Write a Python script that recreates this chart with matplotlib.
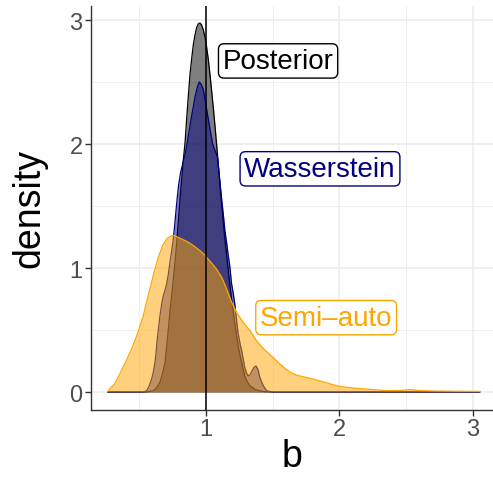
import matplotlib
matplotlib.use("Agg")
import matplotlib.pyplot as plt

plt.rcParams['font.family'] = ['Liberation Sans', 'DejaVu Sans']

# density curves (x = b, y = density)
post_x = [0.266, 0.55, 0.605, 0.63, 0.655, 0.675, 0.693, 0.705, 0.718, 0.73, 0.743, 0.755,
          0.768, 0.78, 0.793, 0.805, 0.818, 0.83, 0.843, 0.855, 0.868, 0.88, 0.893, 0.905,
          0.918, 0.93, 0.943, 0.955, 0.967, 0.98, 0.993, 1.005, 1.017, 1.03, 1.043, 1.055,
          1.067, 1.08, 1.095, 1.11, 1.125, 1.14, 1.155, 1.17, 1.185, 1.2, 1.215, 1.23,
          1.245, 1.26, 1.275, 1.29, 1.31, 1.33, 1.37, 1.42, 1.5, 3.05]
post_y = [0, 0.0, 0.01, 0.035, 0.078, 0.15, 0.24, 0.36, 0.508, 0.65, 0.777, 0.91,
          1.046, 1.2, 1.38, 1.55, 1.72, 1.87, 2.01, 2.2, 2.39, 2.56, 2.69, 2.8,
          2.88, 2.94, 2.97, 2.976, 2.96, 2.92, 2.86, 2.78, 2.685, 2.56, 2.42, 2.29,
          2.15, 1.99, 1.8, 1.6, 1.42, 1.25, 1.1, 0.95, 0.81, 0.68, 0.56, 0.45,
          0.35, 0.27, 0.2, 0.13, 0.08, 0.05, 0.02, 0.005, 0.0, 0]

wass_x = [0.266, 0.53, 0.555, 0.575, 0.593, 0.605, 0.618, 0.627, 0.635, 0.645, 0.655, 0.668,
          0.68, 0.693, 0.705, 0.718, 0.73, 0.743, 0.755, 0.765, 0.775, 0.785, 0.795, 0.81,
          0.83, 0.85, 0.868, 0.893, 0.918, 0.935, 0.95, 0.965, 0.98, 1.005, 1.03, 1.05,
          1.07, 1.085, 1.095, 1.105, 1.118, 1.13, 1.142, 1.155, 1.167, 1.18, 1.19, 1.205,
          1.217, 1.228, 1.24, 1.255, 1.27, 1.28, 1.29, 1.305, 1.317, 1.33, 1.345, 1.36,
          1.375, 1.39, 1.40, 1.415, 1.43, 1.455, 1.5, 3.05]
wass_y = [0, 0, 0.01, 0.05, 0.105, 0.16, 0.24, 0.33, 0.427, 0.52, 0.615, 0.71,
          0.777, 0.82, 0.87, 0.95, 1.046, 1.14, 1.234, 1.34, 1.46, 1.57, 1.67, 1.77,
          1.86, 1.95, 2.07, 2.23, 2.38, 2.46, 2.50, 2.48, 2.44, 2.28, 2.12, 2.0,
          1.94, 1.9, 1.8, 1.69, 1.55, 1.43, 1.3, 1.2, 1.1, 1.0, 0.885, 0.79,
          0.70, 0.59, 0.48, 0.39, 0.32, 0.26, 0.2, 0.15, 0.13, 0.14, 0.17, 0.2,
          0.21, 0.18, 0.13, 0.085, 0.05, 0.01, 0, 0]

semi_x = [0.266, 0.28, 0.318, 0.356, 0.406, 0.455, 0.49, 0.53, 0.565, 0.605, 0.64, 0.68,
          0.71, 0.743, 0.765, 0.785, 0.818, 0.855, 0.893, 0.925, 0.955, 0.985, 1.017, 1.05,
          1.08, 1.12, 1.155, 1.19, 1.23, 1.28, 1.34, 1.38, 1.43, 1.48, 1.53, 1.58,
          1.63, 1.68, 1.74, 1.80, 1.9, 2.0, 2.1, 2.2, 2.35, 2.45, 2.53, 2.6,
          2.7, 2.85, 3.05]
semi_y = [0.005, 0.025, 0.07, 0.15, 0.26, 0.38, 0.48, 0.615, 0.77, 0.94, 1.08, 1.19,
          1.24, 1.26, 1.262, 1.25, 1.234, 1.215, 1.19, 1.165, 1.14, 1.11, 1.07, 1.03,
          0.99, 0.92, 0.83, 0.73, 0.64, 0.56, 0.48, 0.41, 0.35, 0.30, 0.25, 0.2,
          0.16, 0.135, 0.12, 0.105, 0.075, 0.045, 0.032, 0.024, 0.011, 0.012, 0.019, 0.012,
          0.008, 0.006, 0.005]

groups = ['Posterior', 'Wasserstein', 'Semi\u2013auto']
colors = ['black', 'navy', 'orange']
label_x = [1.54, 1.854, 1.90]
label_y = [2.67, 1.80, 0.60]
true_b = 1

fig = plt.figure(figsize=(4.93, 5.02), dpi=100)
ax = fig.add_axes([91 / 493, 91 / 502, 402 / 493, 404 / 502])

curves = [(post_x, post_y), (wass_x, wass_y), (semi_x, semi_y)]
for (xs, ys), col in zip(curves, colors):
    ax.fill_between(xs, ys, 0, color=col, alpha=0.5, linewidth=0, zorder=2)
    ax.plot(xs, ys, color=col, linewidth=0.9, zorder=2)

ax.axvline(true_b, color='black', linewidth=1.1, zorder=3)

for name, col, lx, ly in zip(groups, colors, label_x, label_y):
    ax.text(lx, ly, name, color=col, fontsize=20, ha='center', va='center', zorder=4,
            bbox=dict(boxstyle='round,pad=0.15,rounding_size=0.2', fc='white', ec=col, lw=1.0))

ax.set_xlim(0.1386, 3.15)
ax.set_ylim(-0.145, 3.113)
ax.set_xticks([1, 2, 3])
ax.set_yticks([0, 1, 2, 3])
ax.set_xticks([0.5, 1.5, 2.5], minor=True)
ax.set_yticks([0.5, 1.5, 2.5], minor=True)
ax.grid(which='major', color='#EBEBEB', linewidth=1.1, zorder=0)
ax.grid(which='minor', color='#EBEBEB', linewidth=0.55, zorder=0)
ax.set_axisbelow(True)
ax.tick_params(which='minor', length=0)
ax.tick_params(which='major', length=4, width=1, color='#333333', labelsize=17,
               labelcolor='#4D4D4D', pad=2)

for side in ['top', 'right']:
    ax.spines[side].set_visible(False)
for side in ['left', 'bottom']:
    ax.spines[side].set_color('#333333')
    ax.spines[side].set_linewidth(1.0)

ax.set_xlabel('b', fontsize=27, labelpad=-2)
ax.set_ylabel('density', fontsize=27, labelpad=16)

fig.savefig('out.png', dpi=100)
